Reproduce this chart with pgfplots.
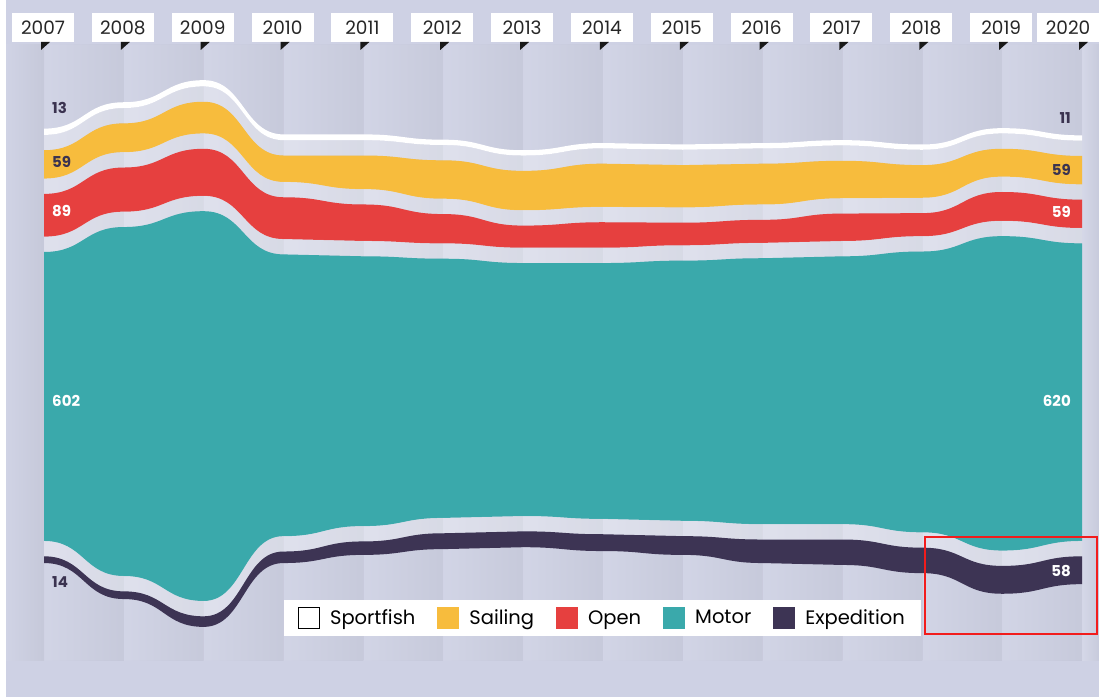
\documentclass[border=0pt]{standalone}
\usepackage{pgfplots}
\usepackage{pgfplotstable}
\pgfplotsset{compat=1.18}
\usepackage{fontspec}
\setmainfont{Poppins}
\definecolor{bgc}{HTML}{CED1E4}
\definecolor{colc}{HTML}{D0D3E5}
\definecolor{cSail}{HTML}{F7BC3D}
\definecolor{cOpen}{HTML}{E6403F}
\definecolor{cMotor}{HTML}{3AA9AB}
\definecolor{cExp}{HTML}{3D3454}
\definecolor{cDark}{HTML}{3B3350}
\definecolor{cBox}{HTML}{F21C1C}
\pgfdeclarelayer{bg}
\pgfsetlayers{bg,main}

% curve with horizontal tangents at every point (like a "bump" curve)
\makeatletter
\newif\ifbump@first
\def\bump@point#1{%
  \pgf@process{#1}%
  \edef\bump@cx{\the\pgf@x}\edef\bump@cy{\the\pgf@y}%
  \ifbump@first
    \pgf@plot@first@action{\pgfqpoint{\bump@cx}{\bump@cy}}%
    \global\bump@firstfalse
  \else
    \pgf@xa=\bump@px\relax
    \advance\pgf@xa by \bump@cx\relax
    \pgf@xa=0.5\pgf@xa
    \edef\bump@mx{\the\pgf@xa}%
    \pgfpathcurveto{\pgfqpoint{\bump@mx}{\bump@py}}{\pgfqpoint{\bump@mx}{\bump@cy}}{\pgfqpoint{\bump@cx}{\bump@cy}}%
  \fi
  \xdef\bump@px{\bump@cx}\xdef\bump@py{\bump@cy}%
}
\def\pgfplothandlerbumpx{%
  \def\pgf@plotstreamstart{%
    \global\bump@firsttrue
    \global\let\pgf@plotstreampoint=\bump@point
    \global\let\pgf@plotstreamspecial=\@gobble
    \global\let\pgf@plotstreamend=\relax
  }%
}
\tikzset{bumpx/.code={\def\tikz@plot@handler{\pgfplothandlerbumpx}}}
\makeatother

\pgfplotstableread{
year base exp gap motor open sail sport
2007 202 14 32 602 89 59 13
2008 127 16 32 727 92 60 12
2009 69 22 32 812 98 66 13
2010 202 24 32 587 87 55 12
2011 219 28 32 562 76 70 12
2012 231 33 32 540 61 80 11
2013 235 33 32 527 46 82 11
2014 227 35 32 533 53 90 11
2015 219 39 32 542 47 88 11
2016 202 49 32 554 48 85 11
2017 198 53 32 558 57 78 11
2018 181 53 32 585 48 68 11
2019 138 58 32 655 60 58 11
2020 158 58 32 620 59 59 11
}\data

\begin{document}
\begin{tikzpicture}[x=1pt,y=1pt]
\begin{axis}[
  at={(44pt,37pt)}, anchor=south west,
  scale only axis, width=1038pt, height=615pt,
  xmin=2007, xmax=2020, ymin=0, ymax=1281.25,
  hide axis, clip=false,
  stack plots=y,
  reverse legend,
  legend columns=-1,
  legend cell align=left,
  legend style={at={(0.538,0.0683)}, anchor=center, fill=white, draw=none,
    font=\fontsize{19.5}{24}\selectfont, inner xsep=14pt, inner ysep=7pt,
    /tikz/every even column/.append style={column sep=20pt}},
  every axis plot/.append style={bumpx, draw=none},
]
\addplot[forget plot] table[x=year,y=base]{\data};
\addplot[fill=cExp, legend image code/.code={\fill[cExp] (0pt,-11pt) rectangle (22pt,11pt); \path (30pt,0pt);}] table[x=year,y=exp]{\data} \closedcycle;
\addlegendentry{Expedition}
\addplot[fill=white, fill opacity=0.3, forget plot] table[x=year,y=gap]{\data} \closedcycle;
\addplot[fill=cMotor, legend image code/.code={\fill[cMotor] (0pt,-11pt) rectangle (22pt,11pt); \path (30pt,0pt);}] table[x=year,y=motor]{\data} \closedcycle;
\addlegendentry{Motor}
\addplot[fill=white, fill opacity=0.3, forget plot] table[x=year,y=gap]{\data} \closedcycle;
\addplot[fill=cOpen, legend image code/.code={\fill[cOpen] (0pt,-11pt) rectangle (22pt,11pt); \path (30pt,0pt);}] table[x=year,y=open]{\data} \closedcycle;
\addlegendentry{Open}
\addplot[fill=white, fill opacity=0.3, forget plot] table[x=year,y=gap]{\data} \closedcycle;
\addplot[fill=cSail, legend image code/.code={\fill[cSail] (0pt,-11pt) rectangle (22pt,11pt); \path (30pt,0pt);}] table[x=year,y=sail]{\data} \closedcycle;
\addlegendentry{Sailing}
\addplot[fill=white, fill opacity=0.3, forget plot] table[x=year,y=gap]{\data} \closedcycle;
\addplot[fill=white, legend image code/.code={\draw[black, fill=white, line width=1pt] (0.5pt,-10.5pt) rectangle (21.5pt,10.5pt); \path (30pt,0pt);}] table[x=year,y=sport]{\data} \closedcycle;
\addlegendentry{Sportfish}
% column shading over everything
\pgfplotsinvokeforeach{2007,2008,2009,2010,2011,2012,2013,2014,2015,2016,2017,2018,2019}{
  \shade[left color=white, right color=black, opacity=0.045] (axis cs:#1,0) rectangle ++(79.846pt,615pt);
}
\end{axis}

\begin{pgfonlayer}{bg}
  \fill[bgc] (0,0) rectangle (1099,697);
  \fill[white] (0,0) rectangle (6,697);
  \fill[colc] (6,37) rectangle (1099,652);
  \shade[left color=colc, right color=black!5!colc] (6,37) rectangle (44,652);
  \shade[left color=white!10!colc, right color=black!4!colc] (1082,37) rectangle (1099,652);
\end{pgfonlayer}

% year labels and pointers
\foreach \k/\yr in {0/2007,1/2008,2/2009,3/2010,4/2011,5/2012,6/2013,7/2014,8/2015,9/2016,10/2017,11/2018,12/2019}{
  \node[fill=white, minimum width=62pt, minimum height=29pt, inner sep=0pt,
        font=\fontsize{18.5}{20}\selectfont, text=black!85]
    at ({43+79.846*\k},669.5) {\yr};
}
\node[fill=white, minimum width=62pt, minimum height=29pt, inner sep=0pt,
      font=\fontsize{18.5}{20}\selectfont, text=black!85] at (1068,669.5) {2020};
\foreach \k in {0,...,13}{
  \fill[black!90] ({41+79.846*\k},655) -- ++(9,0) -- ++(-9,-8) -- cycle;
}

% value labels
\begin{scope}[every node/.style={font=\fontsize{15}{18}\selectfont\bfseries, inner sep=0pt}]
\node[anchor=west, text=cDark] at (52,589) {13};
\node[anchor=west, text=cDark] at (52,535) {59};
\node[anchor=west, text=white] at (52,486) {89};
\node[anchor=west, text=white] at (52,296) {602};
\node[anchor=west, text=cDark] at (52,115) {14};
\node[anchor=east, text=cDark] at (1071,579) {11};
\node[anchor=east, text=cDark] at (1071,527) {59};
\node[anchor=east, text=white] at (1071,485) {59};
\node[anchor=east, text=white] at (1071,296) {620};
\node[anchor=east, text=white] at (1071,126) {58};
\end{scope}

\draw[cBox, line width=2pt] (925,160) rectangle (1097,63);
\end{tikzpicture}
\end{document}
